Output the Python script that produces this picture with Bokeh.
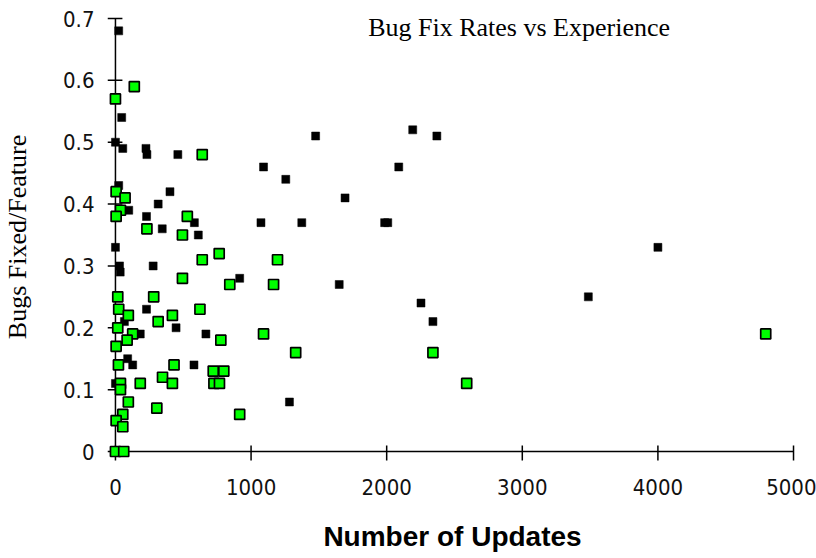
import math
from bokeh.plotting import figure
from bokeh.models import Range1d, FixedTicker, NumeralTickFormatter, Label
from bokeh.embed import file_html
from bokeh.resources import INLINE

# ---------------- data ----------------
chart_title = "Bug Fix Rates vs Experience"
x_title = "Number of Updates"
y_title = "Bugs Fixed/Feature"
x_ticks = [0, 1000, 2000, 3000, 4000, 5000]
y_ticks = [0, 0.1, 0.2, 0.3, 0.4, 0.5, 0.6, 0.7]

black_updates = [24, 46, 0, 54, 225, 232, 460, 1476, 2192, 2370, 1092, 2089, 1256, 24,
                 402, 1693, 315, 98, 229, 582, 1073, 1374, 1985, 2008, 345, 611, 0, 4000,
                 30, 35, 278, 916, 1650, 3487, 2253, 229, 2341, 66, 447, 183, 667, 90,
                 127, 579, 0, 1283]
black_rate = [0.68, 0.54, 0.50, 0.49, 0.49, 0.48, 0.48, 0.51, 0.52, 0.51, 0.46, 0.46, 0.44, 0.43,
              0.42, 0.41, 0.40, 0.39, 0.38, 0.37, 0.37, 0.37, 0.37, 0.37, 0.36, 0.35, 0.33, 0.33,
              0.30, 0.29, 0.30, 0.28, 0.27, 0.25, 0.24, 0.23, 0.21, 0.21, 0.20, 0.19, 0.19, 0.15,
              0.14, 0.14, 0.11, 0.08]

green_updates = [139, 0, 640, 5, 71, 37, 5, 530, 232, 494, 765, 640, 1195, 494, 843, 1166,
                 17, 282, 24, 623, 95, 420, 315, 17, 127, 1092, 86, 777, 5, 2341, 1329, 22,
                 432, 721, 799, 347, 37, 183, 420, 726, 767, 2590, 37, 95, 305, 54, 916, 5,
                 54, 0, 61, 4795]
green_rate = [0.59, 0.57, 0.48, 0.42, 0.41, 0.39, 0.38, 0.38, 0.36, 0.35, 0.32, 0.31, 0.31, 0.28,
              0.27, 0.27, 0.25, 0.25, 0.23, 0.23, 0.22, 0.22, 0.21, 0.20, 0.19, 0.19, 0.18, 0.18,
              0.17, 0.16, 0.16, 0.14, 0.14, 0.13, 0.13, 0.12, 0.11, 0.11, 0.11, 0.11, 0.11, 0.11,
              0.10, 0.08, 0.07, 0.06, 0.06, 0.05, 0.04, 0.0, 0.0, 0.19]

# ---------------- layout (canvas pixels) ----------------
W, H = 816, 558
FL, FR, FT, FB = 103, 797, 0, 473         # frame edges
AX_X0, AX_X1 = 111, 793                   # where x=0 and x=5000 fall
AX_Y0, AX_Y1 = 451, 18                    # where y=0 and y=0.7 fall
kx = (x_ticks[-1] - x_ticks[0]) / (AX_X1 - AX_X0)
ky = (y_ticks[-1] - y_ticks[0]) / (AX_Y0 - AX_Y1)
x_start = x_ticks[0] - (AX_X0 - FL) * kx
x_end = x_ticks[0] + (FR - AX_X0) * kx
y_start = y_ticks[0] - (FB - AX_Y0) * ky
y_end = y_ticks[-1] + (AX_Y1 - FT) * ky


def dx(px):
    return x_start + (px - FL) * kx


def dy(py):
    return y_end - (py - FT) * ky


TICK_FONT = "'Liberation Sans Narrow', 'DejaVu Sans Condensed', 'Liberation Sans', sans-serif"
SERIF = "'Liberation Serif', 'DejaVu Serif', serif"

p = figure(width=W, height=H,
           x_range=Range1d(x_start, x_end), y_range=Range1d(y_start, y_end),
           output_backend="svg", toolbar_location=None,
           min_border_left=FL, min_border_right=W - FR,
           min_border_top=FT, min_border_bottom=H - FB,
           background_fill_color="white", border_fill_color="white",
           outline_line_color=None)
p.grid.visible = False

# Axes in the side panels carry the tick labels and titles
xa = p.xaxis[0]
ya = p.yaxis[0]
xa.ticker = FixedTicker(ticks=x_ticks)
ya.ticker = FixedTicker(ticks=y_ticks)
xa.formatter = NumeralTickFormatter(format="0")
ya.formatter = NumeralTickFormatter(format="0.[0]")
for ax in (xa, ya):
    ax.axis_line_color = None
    ax.major_tick_line_color = None
    ax.minor_tick_line_color = None
    ax.major_tick_in = 0
    ax.major_tick_out = 0
    ax.major_label_text_font = TICK_FONT
    ax.major_label_text_font_size = "22px"
    ax.major_label_text_color = "#111111"
    ax.axis_label_text_color = "black"
xa.major_label_standoff = 5
ya.major_label_standoff = 13
xa.axis_label = x_title
xa.axis_label_standoff = 23
xa.axis_label_text_font = "'Liberation Sans', Arial, sans-serif"
xa.axis_label_text_font_style = "bold"
xa.axis_label_text_font_size = "28px"
ya.axis_label = y_title
ya.axis_label_standoff = 28
ya.axis_label_text_font = SERIF
ya.axis_label_text_font_style = "normal"
ya.axis_label_text_font_size = "26px"

# Axis lines and crossing tick marks at x=0 / y=0
p.line([x_ticks[0], x_ticks[-1]], [0, 0], line_color="black", line_width=1.5)
p.line([0, 0], [y_ticks[0], y_ticks[-1]], line_color="black", line_width=1.5)
p.segment(x0=x_ticks, y0=[-9 * ky] * len(x_ticks), x1=x_ticks, y1=[6 * ky] * len(x_ticks),
          line_color="black", line_width=1.5)
p.segment(x0=[-8 * kx] * len(y_ticks), y0=y_ticks, x1=[7 * kx] * len(y_ticks), y1=y_ticks,
          line_color="black", line_width=1.5)

p.scatter(black_updates, black_rate, marker="square", size=8,
          fill_color="black", line_color="black", line_width=0.5)
p.scatter(green_updates, green_rate, marker="square", size=10,
          fill_color="#00FF00", line_color="black", line_width=1.7)

p.add_layout(Label(x=dx(517), y=dy(27), text=chart_title, text_align="center",
                   text_baseline="alphabetic", text_font=SERIF, text_font_size="26px",
                   text_color="black"))

open("out.html", "w").write(file_html(p, INLINE))
